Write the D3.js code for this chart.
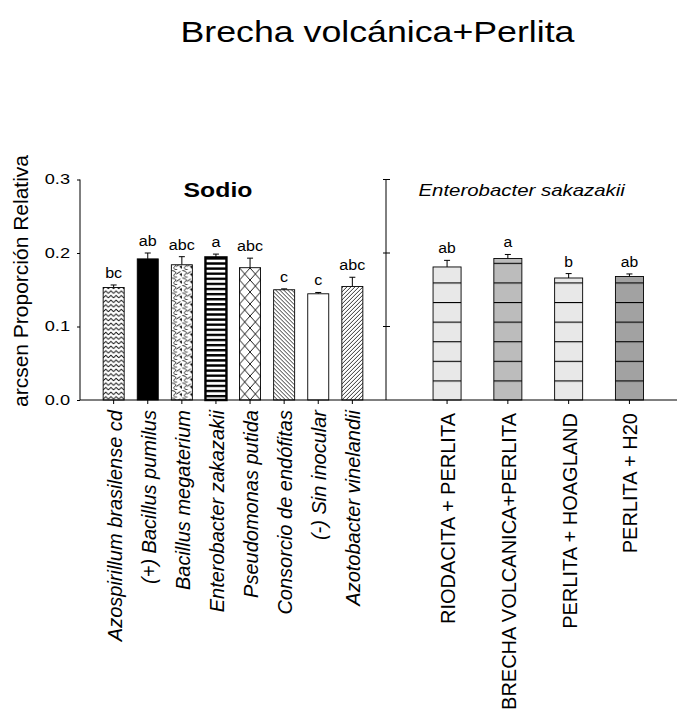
<!DOCTYPE html>
<html>
<head>
<meta charset="utf-8">
<script src="https://cdn.jsdelivr.net/npm/d3@7"></script>
<style>
  html, body { margin: 0; padding: 0; background: #fff; }
  svg { display: block; font-family: Arial, "Liberation Sans", sans-serif; }
</style>
</head>
<body>
<svg id="chart" width="678" height="711"></svg>
<script>
// ---------------- data ----------------
const leftCategories = [
  "Azospirillum brasilense cd",
  "(+) Bacillus pumilus",
  "Bacillus megaterium",
  "Enterobacter zakazakii",
  "Pseudomonas putida",
  "Consorcio de endófitas",
  "(-) Sin inocular",
  "Azotobacter vinelandii"
];
const leftValues  = [0.153, 0.192, 0.184, 0.194, 0.180, 0.150, 0.1445, 0.1545];
const leftErrors  = [0.0035, 0.008, 0.011, 0.0045, 0.013, 0.0012, 0.0018, 0.0125];
const leftLetters = ["bc", "ab", "abc", "a", "abc", "c", "c", "abc"];

const rightCategories = [
  "RIODACITA + PERLITA",
  "BRECHA VOLCANICA+PERLITA",
  "PERLITA + HOAGLAND",
  "PERLITA + H20"
];
const rightValues  = [0.181, 0.1925, 0.166, 0.168];
const rightErrors  = [0.009, 0.0055, 0.006, 0.0035];
const rightLetters = ["ab", "a", "b", "ab"];

const yTicks = [0.0, 0.1, 0.2, 0.3];
const yTickLabels = ["0.0", "0.1", "0.2", "0.3"];

const titleText = "Brecha volcánica+Perlita";
const leftPanelTitle = "Sodio";
const rightPanelTitle = "Enterobacter sakazakii";
const yAxisTitle = "arcsen Proporción Relativa";

// ---------------- layout ----------------
const svg = d3.select("#chart");
const Y0 = 400, Y1 = 179.5;
const yScale = d3.scaleLinear().domain([0, 0.3]).range([Y0, Y1]);

const xL = d3.scaleBand().domain(leftCategories).range([80, 386])
  .paddingInner(0.384).paddingOuter(0.679);
const xR = d3.scaleBand().domain(rightCategories).range([386, 690.5])
  .paddingInner(0.539).paddingOuter(0.774);

function stretch(sel, k) {
  sel.each(function() {
    const w = this.getComputedTextLength();
    d3.select(this).attr("textLength", w * k).attr("lengthAdjust", "spacingAndGlyphs");
  });
}

// ---------------- patterns ----------------
const defs = svg.append("defs");
const leftPatternIds = [];
leftCategories.forEach((c, i) => {
  const id = "pL" + i;
  leftPatternIds.push(id);
  const bx = xL(c);
  let p;
  switch (i) {
    case 0: // zigzag
      p = defs.append("pattern").attr("id", id).attr("patternUnits", "userSpaceOnUse")
        .attr("x", bx).attr("y", 0).attr("width", 5.2).attr("height", 4.6);
      p.append("rect").attr("width", 5.2).attr("height", 4.6).attr("fill", "#fff");
      p.append("path").attr("d", "M0,3.6 L2.6,1 L5.2,3.6").attr("fill", "none")
        .attr("stroke", "#000").attr("stroke-width", 0.9);
      break;
    case 1:
      break;
    case 2: // curly pattern with blobs
      p = defs.append("pattern").attr("id", id).attr("patternUnits", "userSpaceOnUse")
        .attr("x", bx).attr("y", 0).attr("width", 10.5).attr("height", 7.5);
      p.append("rect").attr("width", 10.5).attr("height", 7.5).attr("fill", "#fff");
      p.append("path").attr("d", "M0.5,0.5 C4,1 6,2.5 3,4.5 C1.5,5.5 3,7 6,7.5 M5,4 L9,1.5")
        .attr("fill", "none").attr("stroke", "#000").attr("stroke-width", 0.9);
      p.append("path").attr("d", "M8,4 L10.5,3 L10.5,6.5 Z").attr("fill", "#000");
      break;
    case 3: // horizontal stripes
      p = defs.append("pattern").attr("id", id).attr("patternUnits", "userSpaceOnUse")
        .attr("x", 0).attr("y", Y0).attr("width", 10).attr("height", 5.1);
      p.append("rect").attr("width", 10).attr("height", 5.1).attr("fill", "#fff");
      p.append("rect").attr("y", 0).attr("width", 10).attr("height", 2.4).attr("fill", "#000");
      break;
    case 4: // diamond crosshatch
      p = defs.append("pattern").attr("id", id).attr("patternUnits", "userSpaceOnUse")
        .attr("x", bx).attr("y", Y0).attr("width", 10.5).attr("height", 12);
      p.append("rect").attr("width", 10.5).attr("height", 12).attr("fill", "#fff");
      p.append("path").attr("d", "M0,0 L10.5,12 M10.5,0 L0,12").attr("fill", "none")
        .attr("stroke", "#000").attr("stroke-width", 0.9);
      break;
    case 5: // backslash diagonal
      p = defs.append("pattern").attr("id", id).attr("patternUnits", "userSpaceOnUse")
        .attr("x", bx).attr("y", 0).attr("width", 4).attr("height", 4);
      p.append("rect").attr("width", 4).attr("height", 4).attr("fill", "#fff");
      p.append("path").attr("d", "M0,0 L4,4 M-1,3 L1,5 M3,-1 L5,1").attr("fill", "none")
        .attr("stroke", "#000").attr("stroke-width", 0.8);
      break;
    case 6:
      break;
    case 7: // slash diagonal
      p = defs.append("pattern").attr("id", id).attr("patternUnits", "userSpaceOnUse")
        .attr("x", bx).attr("y", 0).attr("width", 4).attr("height", 4);
      p.append("rect").attr("width", 4).attr("height", 4).attr("fill", "#fff");
      p.append("path").attr("d", "M0,4 L4,0 M-1,1 L1,-1 M3,5 L5,3").attr("fill", "none")
        .attr("stroke", "#000").attr("stroke-width", 0.8);
      break;
  }
});
function leftFill(i) {
  if (i === 1) return "#000";
  if (i === 6) return "#fff";
  return "url(#" + leftPatternIds[i] + ")";
}

const rightColors = ["#e8e8e8", "#bcbcbc", "#e8e8e8", "#a2a2a2"];
rightColors.forEach((col, i) => {
  const p = defs.append("pattern").attr("id", "pR" + i).attr("patternUnits", "userSpaceOnUse")
    .attr("x", 0).attr("y", Y0).attr("width", 100).attr("height", 19.6);
  p.append("rect").attr("width", 100).attr("height", 19.6).attr("fill", col);
  p.append("rect").attr("y", 0).attr("width", 100).attr("height", 1.1).attr("fill", "#000");
});

// ---------------- title ----------------
svg.append("text").attr("x", 377.5).attr("y", 41.7).attr("text-anchor", "middle")
  .attr("font-size", 30).attr("fill", "#000").text(titleText)
  .call(stretch, 1.19);

// ---------------- left bars ----------------
const gL = svg.append("g");
leftCategories.forEach((c, i) => {
  const x = xL(c), w = xL.bandwidth(), cx = x + w / 2;
  const v = leftValues[i], e = leftErrors[i];
  gL.append("line").attr("x1", cx).attr("x2", cx).attr("y1", yScale(v)).attr("y2", yScale(v + e))
    .attr("stroke", "#000").attr("stroke-width", 1);
  gL.append("line").attr("x1", cx - 3).attr("x2", cx + 3).attr("y1", yScale(v + e)).attr("y2", yScale(v + e))
    .attr("stroke", "#000").attr("stroke-width", 1);
  const sw = i === 3 ? 2.4 : 0.9;
  gL.append("rect").attr("x", x).attr("y", yScale(v)).attr("width", w)
    .attr("height", Y0 - yScale(v)).attr("fill", leftFill(i))
    .attr("stroke", "#000").attr("stroke-width", sw);
  gL.append("text").attr("x", cx).attr("y", yScale(v + e) - 7).attr("text-anchor", "middle")
    .attr("font-size", 14).text(leftLetters[i]).call(stretch, 1.15);
});

// ---------------- right bars ----------------
const gR = svg.append("g");
rightCategories.forEach((c, i) => {
  const x = xR(c), w = xR.bandwidth(), cx = x + w / 2;
  const v = rightValues[i], e = rightErrors[i];
  gR.append("line").attr("x1", cx).attr("x2", cx).attr("y1", yScale(v)).attr("y2", yScale(v + e))
    .attr("stroke", "#000").attr("stroke-width", 1);
  gR.append("line").attr("x1", cx - 3).attr("x2", cx + 3).attr("y1", yScale(v + e)).attr("y2", yScale(v + e))
    .attr("stroke", "#000").attr("stroke-width", 1);
  gR.append("rect").attr("x", x).attr("y", yScale(v)).attr("width", w)
    .attr("height", Y0 - yScale(v)).attr("fill", "url(#pR" + i + ")")
    .attr("stroke", "#000").attr("stroke-width", 0.9);
  gR.append("text").attr("x", cx).attr("y", yScale(v + e) - 7).attr("text-anchor", "middle")
    .attr("font-size", 14).text(rightLetters[i]).call(stretch, 1.12);
});

// ---------------- axes ----------------
// left y axis
const yAxisL = d3.axisLeft(yScale).tickValues(yTicks)
  .tickFormat((d, i) => yTickLabels[i]).tickSize(3).tickPadding(7);
const gYL = svg.append("g").attr("transform", "translate(80,0)").call(yAxisL);
gYL.select(".domain").attr("stroke", "#000").attr("d", `M-0,${Y1}V${Y0}`);
gYL.selectAll("text").attr("font-size", 14).attr("font-family", "Arial, 'Liberation Sans', sans-serif")
  .attr("fill", "#000").call(stretch, 1.3);

// right panel y axis (crossing ticks, no labels)
const gYR = svg.append("g").attr("transform", "translate(386,0)");
gYR.append("line").attr("x1", 0).attr("x2", 0).attr("y1", Y1).attr("y2", Y0).attr("stroke", "#000");
gYR.selectAll("line.tk").data(yTicks.slice(1)).enter().append("line").attr("class", "tk")
  .attr("x1", -3).attr("x2", 4).attr("y1", d => yScale(d)).attr("y2", d => yScale(d))
  .attr("stroke", "#000");

// x axis line
svg.append("line").attr("x1", 80).attr("x2", 677).attr("y1", Y0).attr("y2", Y0)
  .attr("stroke", "#000").attr("stroke-width", 1);

// x axes
const xAxisL = d3.axisBottom(xL).tickSize(4).tickPadding(0).tickFormat("");
const gXL = svg.append("g").attr("transform", `translate(0,${Y0})`).call(xAxisL);
gXL.select(".domain").remove();
gXL.selectAll("line").attr("stroke", "#000");
const xAxisR = d3.axisBottom(xR).tickSize(4).tickPadding(0).tickFormat("");
const gXR = svg.append("g").attr("transform", `translate(0,${Y0})`).call(xAxisR);
gXR.select(".domain").remove();
gXR.selectAll("line").attr("stroke", "#000");

// rotated category labels
svg.append("g").selectAll("text").data(leftCategories).enter().append("text")
  .attr("transform", d => `translate(${xL(d) + xL.bandwidth() / 2 + 8},410) rotate(-90)`)
  .attr("text-anchor", "end").attr("font-size", 20).attr("font-style", "italic")
  .text(d => d);
svg.append("g").selectAll("text").data(rightCategories).enter().append("text")
  .attr("transform", d => `translate(${xR(d) + xR.bandwidth() / 2 + 8},413) rotate(-90)`)
  .attr("text-anchor", "end").attr("font-size", 20)
  .text(d => d);

// panel titles
svg.append("text").attr("x", 218).attr("y", 196.7).attr("text-anchor", "middle")
  .attr("font-size", 21).attr("font-weight", "bold").text(leftPanelTitle).call(stretch, 1.18);
svg.append("text").attr("x", 521.7).attr("y", 196).attr("text-anchor", "middle")
  .attr("font-size", 17).attr("font-style", "italic").text(rightPanelTitle).call(stretch, 1.2);

// y axis title
svg.append("text").attr("transform", "translate(27.5,281) rotate(-90)")
  .attr("text-anchor", "middle").attr("font-size", 19.5)
  .attr("textLength", 252).attr("lengthAdjust", "spacingAndGlyphs")
  .text(yAxisTitle);
</script>
</body>
</html>
